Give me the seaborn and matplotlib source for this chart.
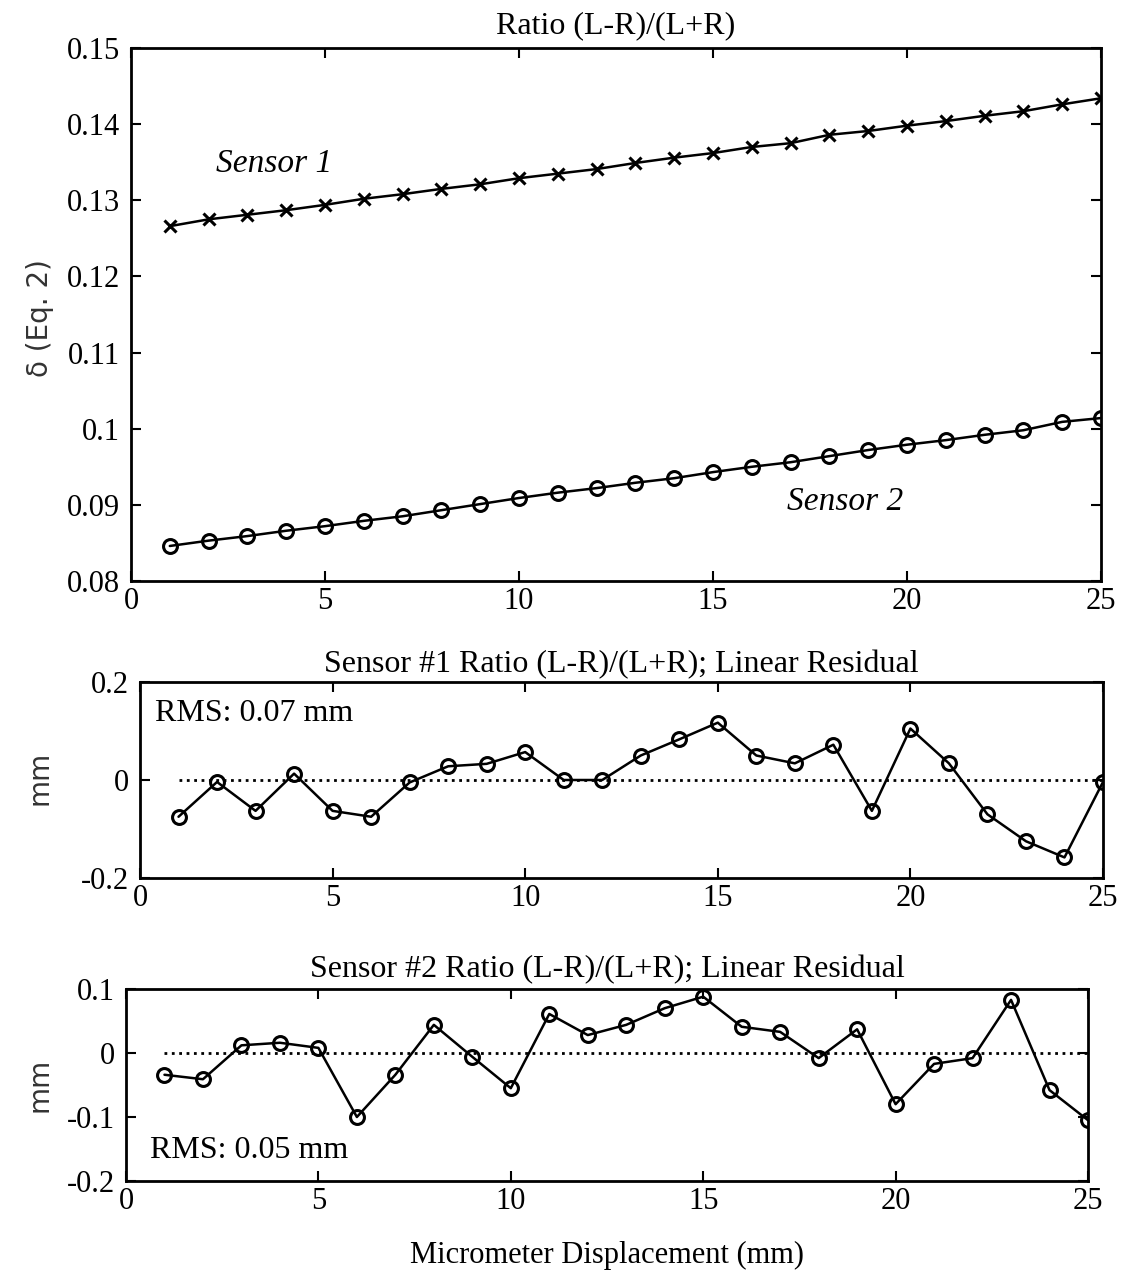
import numpy as np
import pandas as pd
import seaborn as sns
import matplotlib.pyplot as plt

# Micrometer displacement (mm)
displacement = list(range(1, 26))

# Ratio (L-R)/(L+R) for both sensors
sensor1_ratio = [0.1266, 0.1275, 0.1281, 0.1287, 0.1294, 0.1302, 0.1308, 0.1315, 0.1321,
                 0.1329, 0.1335, 0.1341, 0.1349, 0.1356, 0.1362, 0.1370, 0.1375, 0.1386,
                 0.1391, 0.1398, 0.1404, 0.1411, 0.1417, 0.1426, 0.1434]
sensor2_ratio = [0.0846, 0.0853, 0.0859, 0.0866, 0.0872, 0.0879, 0.0885, 0.0893, 0.0901,
                 0.0909, 0.0916, 0.0922, 0.0929, 0.0935, 0.0943, 0.0950, 0.0956, 0.0964,
                 0.0972, 0.0979, 0.0985, 0.0992, 0.0998, 0.1009, 0.1014]

# Linear residuals (mm)
sensor1_resid = [-0.075, -0.004, -0.063, 0.013, -0.063, -0.075, -0.005, 0.028, 0.033,
                 0.057, 0.000, 0.000, 0.050, 0.083, 0.117, 0.050, 0.034, 0.072,
                 -0.063, 0.105, 0.034, -0.070, -0.125, -0.158, -0.004]
sensor2_resid = [-0.034, -0.041, 0.012, 0.016, 0.008, -0.100, -0.034, 0.044, -0.006,
                 -0.055, 0.061, 0.028, 0.044, 0.070, 0.088, 0.041, 0.033, -0.008,
                 0.037, -0.080, -0.017, -0.008, 0.083, -0.058, -0.105]

sns.set_style('ticks')
plt.rcParams['font.family'] = ['Liberation Serif', 'DejaVu Serif']
plt.rcParams['xtick.direction'] = 'in'
plt.rcParams['ytick.direction'] = 'in'
plt.rcParams['text.color'] = 'black'
plt.rcParams['axes.labelcolor'] = 'black'
plt.rcParams['axes.titlecolor'] = 'black'

W, H = 1122, 1270
fig = plt.figure(figsize=(W / 100, H / 100), dpi=100)


def px_axes(left, top, right, bottom):
    # axes from pixel box of the reference picture
    return fig.add_axes([left / W, 1 - bottom / H, (right - left) / W, (bottom - top) / H])


def style_axes(ax, yticks, ylabels):
    ax.set_xlim(0, 25)
    ax.set_xticks([0, 5, 10, 15, 20, 25])
    ax.set_xticklabels(['0', '5', '10', '15', '20', '25'])
    ax.set_yticks(yticks)
    ax.set_yticklabels(ylabels)
    ax.tick_params(axis='both', which='both', top=True, right=True, length=7, width=1.5,
                   labelsize=22, colors='black')
    ax.tick_params(axis='x', pad=4)
    ax.tick_params(axis='y', pad=8)
    for s in ax.spines.values():
        s.set_visible(True)
        s.set_linewidth(2)
        s.set_color('black')
    ax.set_xlabel('')
    ax.set_ylabel('')


line_kw = dict(color='black', linewidth=1.8, markeredgewidth=2.2,
               markerfacecolor='none', markeredgecolor='black')

# ---- top plot: ratio vs displacement
ax1 = px_axes(131, 48, 1101, 581)
df_top = pd.DataFrame({'x': displacement, 's1': sensor1_ratio, 's2': sensor2_ratio})
sns.lineplot(data=df_top, x='x', y='s1', ax=ax1, marker='x', markersize=9, **line_kw)
sns.lineplot(data=df_top, x='x', y='s2', ax=ax1, marker='o', markersize=10, **line_kw)
ax1.set_ylim(0.08, 0.15)
style_axes(ax1, [0.08, 0.09, 0.10, 0.11, 0.12, 0.13, 0.14, 0.15],
           ['0.08', '0.09', '0.1', '0.11', '0.12', '0.13', '0.14', '0.15'])
ax1.set_title('Ratio (L-R)/(L+R)', fontsize=23, pad=11)
ax1.text(2.2, 0.1337, 'Sensor 1', fontsize=24, style='italic', va='baseline')
ax1.text(16.9, 0.0893, 'Sensor 2', fontsize=24, style='italic', va='baseline')
fig.text(40 / W, 1 - 318 / H, 'δ (Eq. 2)', rotation=90, ha='center', va='center',
         fontsize=20, family='DejaVu Sans', color='#333333')

# ---- middle plot: sensor 1 residual
ax2 = px_axes(140, 682, 1103, 878)
df_mid = pd.DataFrame({'x': displacement, 'r': sensor1_resid, 'zero': [0.0] * 25})
sns.lineplot(data=df_mid, x='x', y='zero', ax=ax2, color='black', linestyle=':', linewidth=2)
sns.lineplot(data=df_mid, x='x', y='r', ax=ax2, marker='o', markersize=10, **line_kw)
ax2.set_ylim(-0.2, 0.2)
style_axes(ax2, [-0.2, 0, 0.2], ['-0.2', '0', '0.2'])
ax2.set_title('Sensor #1 Ratio (L-R)/(L+R); Linear Residual', fontsize=23, pad=7)
ax2.text(0.39, 0.121, 'RMS: 0.07 mm', fontsize=23, va='baseline')
fig.text(40 / W, 1 - 778 / H, 'mm', rotation=90, ha='center', va='center',
         fontsize=20, family='DejaVu Sans', color='#333333')

# ---- bottom plot: sensor 2 residual
ax3 = px_axes(126, 989, 1088, 1181)
df_bot = pd.DataFrame({'x': displacement, 'r': sensor2_resid, 'zero': [0.0] * 25})
sns.lineplot(data=df_bot, x='x', y='zero', ax=ax3, color='black', linestyle=':', linewidth=2)
sns.lineplot(data=df_bot, x='x', y='r', ax=ax3, marker='o', markersize=10, **line_kw)
ax3.set_ylim(-0.2, 0.1)
style_axes(ax3, [-0.2, -0.1, 0, 0.1], ['-0.2', '-0.1', '0', '0.1'])
ax3.set_title('Sensor #2 Ratio (L-R)/(L+R); Linear Residual', fontsize=23, pad=8.5)
ax3.text(0.62, -0.164, 'RMS: 0.05 mm', fontsize=23, va='baseline')
fig.text(40 / W, 1 - 1085 / H, 'mm', rotation=90, ha='center', va='center',
         fontsize=20, family='DejaVu Sans', color='#333333')
ax3.set_xlabel('Micrometer Displacement (mm)', fontsize=22, labelpad=18)

plt.savefig('out.png', dpi=100)
